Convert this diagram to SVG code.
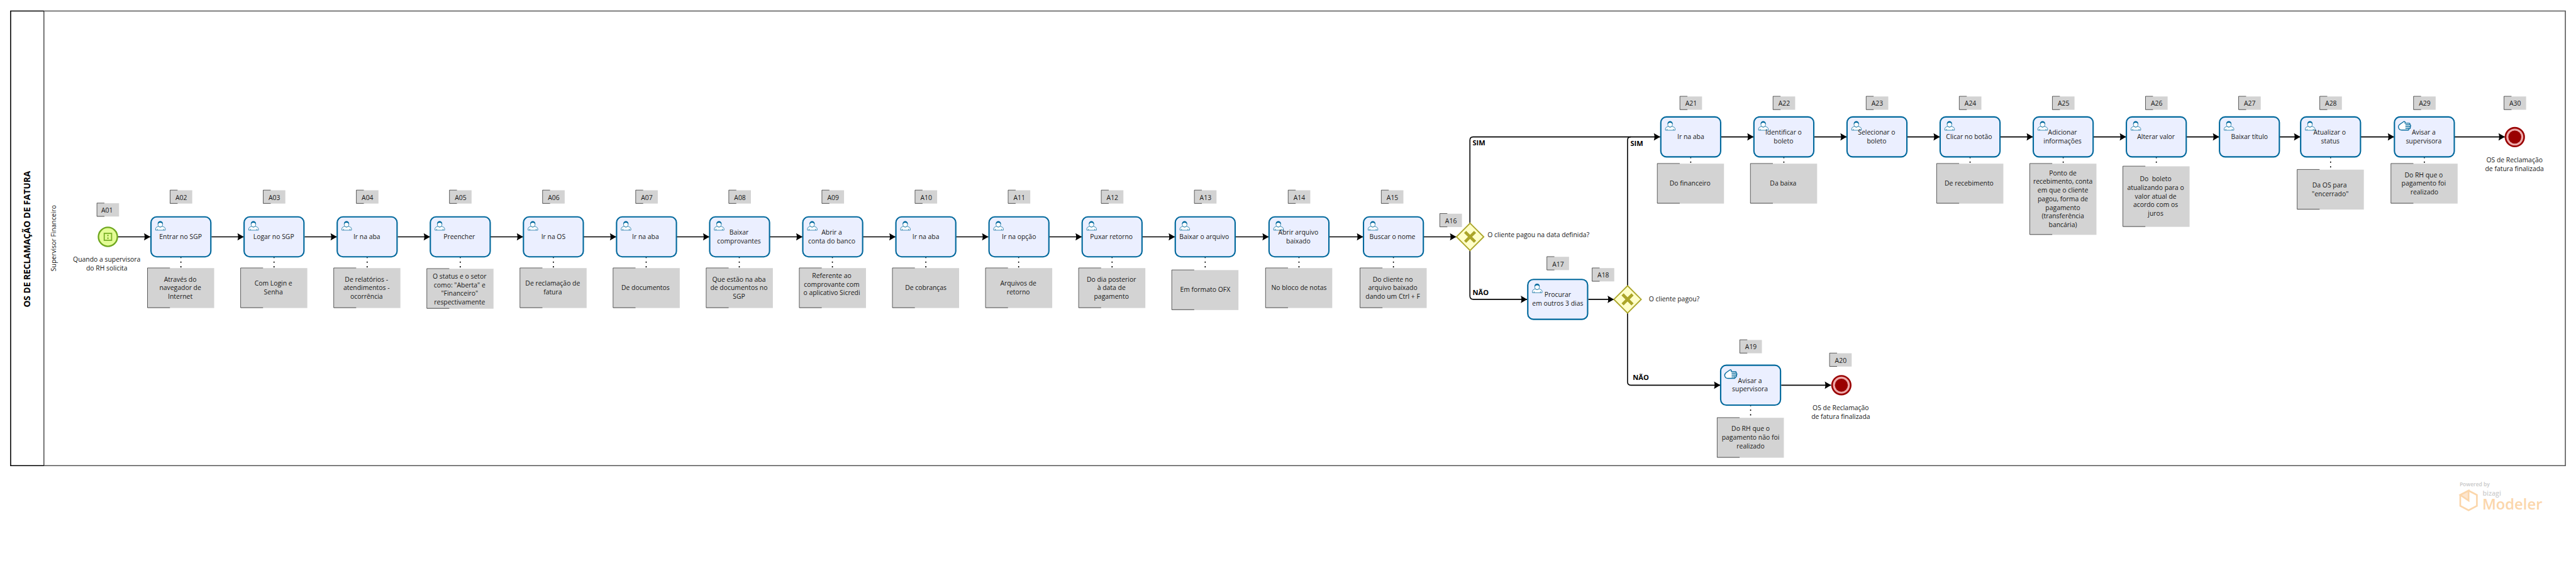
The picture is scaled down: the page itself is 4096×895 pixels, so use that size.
<svg xmlns="http://www.w3.org/2000/svg" width="4096" height="895" viewBox="0 0 4096 895">
<style>
text{font-family:"Open Sans","Noto Sans","DejaVu Sans",sans-serif;font-size:19.7px;fill:#161616}
.t{text-anchor:middle}
.b{font-weight:700;font-size:21px;fill:#000}
.g{fill:#d3d3d3}
.br{fill:none;stroke:#000;stroke-width:1.2}
.box{fill:#ebefff;stroke:#00689c;stroke-width:4}
.ic{fill:#fff;stroke:#00689c;stroke-width:1.4}
.gw{fill:#ffffc8;stroke:#aba528;stroke-width:3.5}
.gx{stroke:#aba528;stroke-width:9;fill:none}
.fl{fill:none;stroke:#000;stroke-width:3}
.as{fill:none;stroke:#000;stroke-width:3;stroke-dasharray:4 10}
</style>
<defs>
<marker id="arrow" markerUnits="userSpaceOnUse" markerWidth="22" markerHeight="26" refX="20" refY="13" orient="auto"><path d="M1 2L20 13L1 24Q5 13 1 2Z" fill="#000"/></marker>
<g id="tag"><rect class="g" x="1" y="1" width="66" height="40"/><path class="br" d="M23 .5H.5V40.5H23"/></g>
<g id="note"><rect class="g" x="1" y="1" width="200" height="120"/><path class="br" d="M68 .5H.5V120H68"/></g>
<g id="person"><ellipse class="ic" cx="30" cy="24" rx="7" ry="8.5"/><path class="ic" d="M16 42V37Q16 33 24 30.500Q30 36 36 30.500Q45 33 45 37V42Z"/><path d="M22.500 24Q22 15 30 15Q38 15 37.500 24Q34 19.500 30 19.500Q26 19.500 22.500 24Z" fill="#00689c"/><path class="ic" d="M21 38V42M40 38V42"/></g>
<g id="hand"><path d="M31 15.500L20 23Q14 27 14 32Q15 42 25 41.500H44Q47 39 45 37H49Q51 34 49 31.500H50Q52 27 49 25.500Q49 21 46 21H34V17Z" fill="#fff" stroke="#00689c" stroke-width="2.6"/><path d="M35 26H48M35 31.500H49M35 37H46" stroke="#00689c" stroke-width="2.6" fill="none"/></g>
<rect id="tbox" class="box" x="2" y="2" width="180" height="120" rx="17"/>
<g id="task"><use href="#tbox"/><use href="#person"/></g>
<g id="taskh"><use href="#tbox"/><use href="#hand"/></g>
<g id="gate"><path class="gw" d="M0 -41L41 0L0 41L-41 0Z"/><path class="gx" d="M-15 -15L15 15M15 -15L-15 15"/></g>
<g id="endev"><circle r="28" fill="#eeaaaa" stroke="#990000" stroke-width="5"/><circle r="19.500" fill="#990000"/></g>
</defs>
<g transform="scale(0.52879)">
<rect width="7746" height="1692" fill="#fff"/>
<g id="pool">
<path d="M132 33H7714V1400H132" fill="none" stroke="#555" stroke-width="3"/>
<path d="M132 33V1400" fill="none" stroke="#555" stroke-width="3"/>
<path d="M132 33H32V1400H132" fill="none" stroke="#000" stroke-width="3"/>
<text transform="translate(91 719) rotate(-90)" class="t" textLength="410" lengthAdjust="spacingAndGlyphs" style="font-weight:700;font-size:28px;fill:#000">OS DE RECLAMAÇÃO DE FATURA</text>
<text transform="translate(169 716) rotate(-90)" class="t">Supervisor Financeiro</text>
</g>
<g id="connectors">
<path class="fl" marker-end="url(#arrow)" d="M354 712H452"/>
<path class="fl" marker-end="url(#arrow)" d="M636 712H733"/>
<path class="fl" marker-end="url(#arrow)" d="M916 712H1013"/>
<path class="fl" marker-end="url(#arrow)" d="M1196 712H1293"/>
<path class="fl" marker-end="url(#arrow)" d="M1475 712H1573"/>
<path class="fl" marker-end="url(#arrow)" d="M1755 712H1853"/>
<path class="fl" marker-end="url(#arrow)" d="M2034 712H2133"/>
<path class="fl" marker-end="url(#arrow)" d="M2314 712H2413"/>
<path class="fl" marker-end="url(#arrow)" d="M2595 712H2693"/>
<path class="fl" marker-end="url(#arrow)" d="M2875 712H2972"/>
<path class="fl" marker-end="url(#arrow)" d="M3155 712H3253"/>
<path class="fl" marker-end="url(#arrow)" d="M3435 712H3533"/>
<path class="fl" marker-end="url(#arrow)" d="M3715 712H3815"/>
<path class="fl" marker-end="url(#arrow)" d="M3997 712H4099"/>
<path class="fl" marker-end="url(#arrow)" d="M4281 712H4379"/>
<path class="fl" marker-end="url(#arrow)" d="M4420 671V421.500Q4420 411.500 4430 411.500H4992"/>
<path class="fl" marker-end="url(#arrow)" d="M4420 753V890Q4420 900 4430 900H4592"/>
<path class="fl" marker-end="url(#arrow)" d="M4776 900H4853"/>
<path class="fl" d="M4894 859V421.500Q4894 411.500 4904 411.500"/>
<path class="fl" marker-end="url(#arrow)" d="M4894 941V1148Q4894 1158 4904 1158H5173"/>
<path class="fl" marker-end="url(#arrow)" d="M5356 1158H5506"/>
<path class="fl" marker-end="url(#arrow)" d="M5176 411.500H5273"/>
<path class="fl" marker-end="url(#arrow)" d="M5456 411.500H5553"/>
<path class="fl" marker-end="url(#arrow)" d="M5735 411.500H5833"/>
<path class="fl" marker-end="url(#arrow)" d="M6015 411.500H6113"/>
<path class="fl" marker-end="url(#arrow)" d="M6295 411.500H6393"/>
<path class="fl" marker-end="url(#arrow)" d="M6575 411.500H6673"/>
<path class="fl" marker-end="url(#arrow)" d="M6855 411.500H6917"/>
<path class="fl" marker-end="url(#arrow)" d="M7099 411.500H7199"/>
<path class="fl" marker-end="url(#arrow)" d="M7381 411.500H7532"/>
<path class="as" d="M544 772V805M824 772V805M1104 772V805M1384 772V807M1664 772V805M1943 772V805M2223 772V805M2503 772V805M2784 772V805M3063 772V805M3344 772V805M3624 772V806M3906 772V805M4190 772V805M5264 1217V1255M5084 471.500V491M5364 471.500V491M5924 471.500V491M6204 471.500V491M6484 471.500V491M7008 471.500V509M7290 471.500V491"/>
</g>
<g id="A01"><use href="#tag" x="291" y="610"/><text class="t" x="322" y="639">A01</text>
<circle cx="324.500" cy="712" r="28.500" fill="#e4fc96" stroke="#6fa81e" stroke-width="4.500"/>
<rect x="313.500" y="701.500" width="22" height="21" fill="none" stroke="#7cb32a" stroke-width="3.500"/><rect x="322.500" y="706" width="4" height="4" fill="#6fa81e"/><rect x="322.500" y="714" width="4" height="4" fill="#6fa81e"/>
<text class="t" x="321" y="787.500">Quando a supervisora<tspan x="321" dy="26">do RH solicita</tspan></text></g>
<g id="A02"><use href="#tag" x="511" y="571"/><text class="t" x="545" y="600.500">A02</text><use href="#task" x="452" y="650"/><text class="t" x="543" y="718.500">Entrar no SGP</text><use href="#note" x="443" y="805"/><text class="t" x="542" y="846.500">Através do<tspan x="542" dy="26">navegador de</tspan><tspan x="542" dy="26">Internet</tspan></text></g>
<g id="A03"><use href="#tag" x="791" y="571"/><text class="t" x="825" y="600.500">A03</text><use href="#task" x="732" y="650"/><text class="t" x="823" y="718.500">Logar no SGP</text><use href="#note" x="723" y="805"/><text class="t" x="822" y="859.500">Com Login e<tspan x="822" dy="26">Senha</tspan></text></g>
<g id="A04"><use href="#tag" x="1071" y="571"/><text class="t" x="1105" y="600.500">A04</text><use href="#task" x="1012" y="650"/><text class="t" x="1103" y="718.500">Ir na aba</text><use href="#note" x="1003" y="805"/><text class="t" x="1102" y="846.500">De relatórios -<tspan x="1102" dy="26">atendimentos -</tspan><tspan x="1102" dy="26">ocorrência</tspan></text></g>
<g id="A05"><use href="#tag" x="1351" y="571"/><text class="t" x="1385" y="600.500">A05</text><use href="#task" x="1292" y="650"/><text class="t" x="1381" y="718.500">Preencher</text><use href="#note" x="1283" y="807"/><text class="t" x="1382" y="837.500">O status e o setor<tspan x="1382" dy="26">como: "Aberta" e</tspan><tspan x="1382" dy="26">"Financeiro"</tspan><tspan x="1382" dy="26">respectivamente</tspan></text></g>
<g id="A06"><use href="#tag" x="1631" y="571"/><text class="t" x="1665" y="600.500">A06</text><use href="#task" x="1572" y="650"/><text class="t" x="1664" y="718.500">Ir na OS</text><use href="#note" x="1563" y="805"/><text class="t" x="1662" y="859.500">De reclamação de<tspan x="1662" dy="26">fatura</tspan></text></g>
<g id="A07"><use href="#tag" x="1911" y="571"/><text class="t" x="1945" y="600.500">A07</text><use href="#task" x="1852" y="650"/><text class="t" x="1941" y="718.500">Ir na aba</text><use href="#note" x="1843" y="805"/><text class="t" x="1941" y="872.500">De documentos</text></g>
<g id="A08"><use href="#tag" x="2191" y="571"/><text class="t" x="2225" y="600.500">A08</text><use href="#task" x="2132" y="650"/><text class="t" x="2222" y="705.500">Baixar<tspan x="2222" dy="26">comprovantes</tspan></text><use href="#note" x="2123" y="805"/><text class="t" x="2222" y="846.500">Que estão na aba<tspan x="2222" dy="26">de documentos no</tspan><tspan x="2222" dy="26">SGP</tspan></text></g>
<g id="A09"><use href="#tag" x="2471" y="571"/><text class="t" x="2505" y="600.500">A09</text><use href="#task" x="2412" y="650"/><text class="t" x="2501" y="705.500">Abrir a<tspan x="2501" dy="26">conta do banco</tspan></text><use href="#note" x="2403" y="805"/><text class="t" x="2501" y="835.500">Referente ao<tspan x="2501" dy="26">comprovante com</tspan><tspan x="2501" dy="26">o aplicativo Sicredi</tspan></text></g>
<g id="A10"><use href="#tag" x="2751" y="571"/><text class="t" x="2785" y="600.500">A10</text><use href="#task" x="2692" y="650"/><text class="t" x="2784" y="718.500">Ir na aba</text><use href="#note" x="2683" y="805"/><text class="t" x="2784" y="872.500">De cobranças</text></g>
<g id="A11"><use href="#tag" x="3031" y="571"/><text class="t" x="3065" y="600.500">A11</text><use href="#task" x="2972" y="650"/><text class="t" x="3064" y="718.500">Ir na opção</text><use href="#note" x="2963" y="805"/><text class="t" x="3062" y="859.500">Arquivos de<tspan x="3062" dy="26">retorno</tspan></text></g>
<g id="A12"><use href="#tag" x="3311" y="571"/><text class="t" x="3345" y="600.500">A12</text><use href="#task" x="3252" y="650"/><text class="t" x="3342" y="718.500">Puxar retorno</text><use href="#note" x="3243" y="805"/><text class="t" x="3342" y="846.500">Do dia posterior<tspan x="3342" dy="26">à data de</tspan><tspan x="3342" dy="26">pagamento</tspan></text></g>
<g id="A13"><use href="#tag" x="3591" y="571"/><text class="t" x="3625" y="600.500">A13</text><use href="#task" x="3532" y="650"/><text class="t" x="3621" y="718.500">Baixar o arquivo</text><use href="#note" x="3523" y="811"/><text class="t" x="3624" y="878">Em formato OFX</text></g>
<g id="A14"><use href="#tag" x="3873" y="571"/><text class="t" x="3907" y="600.500">A14</text><use href="#task" x="3814" y="650"/><text class="t" x="3904" y="705.500">Abrir arquivo<tspan x="3904" dy="26">baixado</tspan></text><use href="#note" x="3805" y="805"/><text class="t" x="3906" y="872.500">No bloco de notas</text></g>
<g id="A15"><use href="#tag" x="4153" y="571"/><text class="t" x="4187" y="600.500">A15</text><use href="#task" x="4098" y="650"/><text class="t" x="4187" y="718.500">Buscar o nome</text><use href="#note" x="4089" y="805"/><text class="t" x="4188" y="846.500">Do cliente no<tspan x="4188" dy="26">arquivo baixado</tspan><tspan x="4188" dy="26">dando um Ctrl + F</tspan></text></g>
<g id="A16"><use href="#tag" x="4329" y="641.500"/><text class="t" x="4363" y="671">A16</text><use href="#gate" x="4420.500" y="712"/><text x="4473" y="712.500">O cliente pagou na data definida?</text><text class="b" x="4428" y="437">SIM</text><text class="b" x="4428" y="887">NÃO</text></g>
<g id="A17"><use href="#tag" x="4651" y="771"/><text class="t" x="4685" y="801">A17</text><use href="#task" x="4592" y="838"/><text class="t" x="4684" y="893">Procurar<tspan x="4684" dy="26">em outros 3 dias</tspan></text></g>
<g id="A18"><use href="#tag" x="4787" y="805"/><text class="t" x="4821" y="834.500">A18</text><use href="#gate" x="4894" y="900"/><text x="4958" y="906.500">O cliente pagou?</text><text class="b" x="4902.500" y="439.500">SIM</text><text class="b" x="4910" y="1143">NÃO</text></g>
<g id="A19"><use href="#tag" x="5231" y="1021"/><text class="t" x="5265" y="1050.500">A19</text><use href="#taskh" x="5172" y="1096"/><text class="t" x="5262" y="1151">Avisar a<tspan x="5262" dy="26">supervisora</tspan></text><use href="#note" x="5163" y="1255"/><text class="t" x="5264" y="1295.500">Do RH que o<tspan x="5264" dy="26">pagamento não foi</tspan><tspan x="5264" dy="26">realizado</tspan></text></g>
<g id="A20"><use href="#tag" x="5501" y="1061"/><text class="t" x="5535" y="1090.500">A20</text><use href="#endev" x="5537" y="1158"/><text class="t" x="5535" y="1233">OS de Reclamação<tspan x="5535" dy="26">de fatura finalizada</tspan></text></g>
<g id="A21"><use href="#tag" x="5051" y="289"/><text class="t" x="5085" y="318.500">A21</text><use href="#task" x="4992" y="349.500"/><text class="t" x="5084" y="418">Ir na aba</text><use href="#note" x="4983" y="491"/><text class="t" x="5082" y="557.500">Do financeiro</text></g>
<g id="A22"><use href="#tag" x="5331" y="289"/><text class="t" x="5365" y="318.500">A22</text><use href="#task" x="5272" y="349.500"/><text class="t" x="5363" y="405">Identificar o<tspan x="5363" dy="26">boleto</tspan></text><use href="#note" x="5263" y="491"/><text class="t" x="5362" y="557.500">Da baixa</text></g>
<g id="A23"><use href="#tag" x="5611" y="289"/><text class="t" x="5645" y="318.500">A23</text><use href="#task" x="5552" y="349.500"/><text class="t" x="5643" y="405">Selecionar o<tspan x="5643" dy="26">boleto</tspan></text></g>
<g id="A24"><use href="#tag" x="5891" y="289"/><text class="t" x="5925" y="318.500">A24</text><use href="#task" x="5832" y="349.500"/><text class="t" x="5921" y="418">Clicar no botão</text><use href="#note" x="5823" y="491"/><text class="t" x="5921" y="558">De recebimento</text></g>
<g id="A25"><use href="#tag" x="6171" y="289"/><text class="t" x="6205" y="318.500">A25</text><use href="#task" x="6112" y="349.500"/><text class="t" x="6202" y="405">Adicionar<tspan x="6202" dy="26">informações</tspan></text><rect class="g" x="6104" y="492" width="200" height="214"/><path class="br" d="M6171 491.500H6103.500V705H6171"/><text class="t" x="6203" y="527">Ponto de<tspan x="6203" dy="26">recebimento, conta</tspan><tspan x="6203" dy="26">em que o cliente</tspan><tspan x="6203" dy="26">pagou, forma de</tspan><tspan x="6203" dy="26">pagamento</tspan><tspan x="6203" dy="26">(transferência</tspan><tspan x="6203" dy="26">bancária)</tspan></text></g>
<g id="A26"><use href="#tag" x="6451" y="289"/><text class="t" x="6485" y="318.500">A26</text><use href="#task" x="6392" y="349.500"/><text class="t" x="6483" y="418">Alterar valor</text><rect class="g" x="6384" y="500" width="200" height="182"/><path class="br" d="M6451 499.500H6383.500V681H6451"/><text class="t" x="6482" y="545" xml:space="preserve">Do  boleto<tspan x="6482" dy="26">atualizando para o</tspan><tspan x="6482" dy="26">valor atual de</tspan><tspan x="6482" dy="26">acordo com os</tspan><tspan x="6482" dy="26">juros</tspan></text></g>
<g id="A27"><use href="#tag" x="6731" y="289"/><text class="t" x="6765" y="318.500">A27</text><use href="#task" x="6672" y="349.500"/><text class="t" x="6764" y="418">Baixar título</text></g>
<g id="A28"><use href="#tag" x="6975" y="289"/><text class="t" x="7009" y="318.500">A28</text><use href="#task" x="6916" y="349.500"/><text class="t" x="7005" y="405">Atualizar o<tspan x="7007" dy="26">status</tspan></text><use href="#note" x="6907" y="509"/><text class="t" x="7005" y="563.500">Da OS para<tspan x="7007" dy="26">"encerrado"</tspan></text></g>
<g id="A29"><use href="#tag" x="7257" y="289"/><text class="t" x="7291" y="318.500">A29</text><use href="#taskh" x="7198" y="349.500"/><text class="t" x="7288" y="405">Avisar a<tspan x="7288" dy="26">supervisora</tspan></text><use href="#note" x="7189" y="491"/><text class="t" x="7288" y="532.500">Do RH que o<tspan x="7288" dy="26">pagamento foi</tspan><tspan x="7290" dy="26">realizado</tspan></text></g>
<g id="A30"><use href="#tag" x="7529" y="289"/><text class="t" x="7563" y="318.500">A30</text><use href="#endev" x="7562" y="412"/><text class="t" x="7561" y="487.500">OS de Reclamação<tspan x="7561" dy="26">de fatura finalizada</tspan></text></g>
<g id="watermark">
<text x="7396" y="1461" style="font-size:16px;fill:#c8c8c8;font-weight:600">Powered by</text>
<path d="M7423 1475L7448 1488V1521L7423 1534L7398 1521V1488Z" fill="none" stroke="#fbd6ab" stroke-width="5"/>
<path d="M7423 1475V1505L7398 1488Z" fill="#fde6cf" stroke="#fbd6ab" stroke-width="5"/>
<text x="7465" y="1490" style="font-size:20px;fill:#cfcfcf;font-weight:600">bizagi</text>
<text x="7464" y="1531" style="font-size:45px;fill:#fbd6ab;font-weight:600">Modeler</text>
</g>
</g>
</svg>
